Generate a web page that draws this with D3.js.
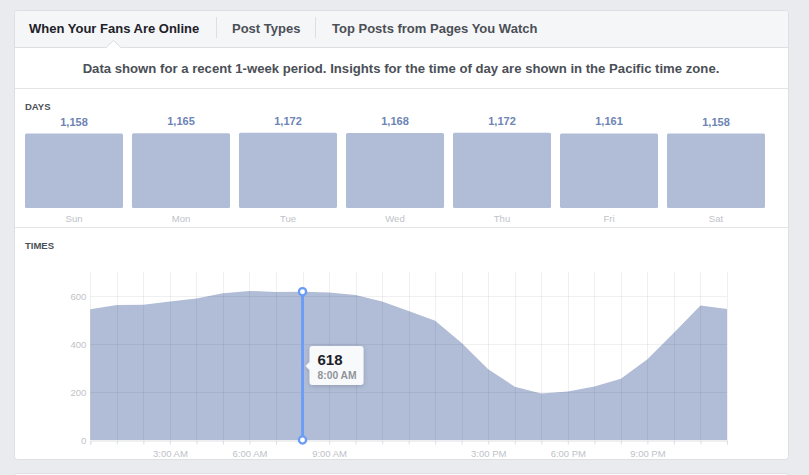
<!DOCTYPE html>
<html>
<head>
<meta charset="utf-8">
<script src="https://cdn.jsdelivr.net/npm/d3@7"></script>
<style>
  html, body { margin: 0; padding: 0; background: #e9ebee; }
  svg { display: block; font-family: "Liberation Sans", Arial, Helvetica, sans-serif; }
</style>
</head>
<body>
<svg id="chart" width="809" height="475"></svg>
<script>
// ---- data ----
const tabs = ["When Your Fans Are Online", "Post Types", "Top Posts from Pages You Watch"];
const subtitle = "Data shown for a recent 1-week period. Insights for the time of day are shown in the Pacific time zone.";
const days = ["Sun", "Mon", "Tue", "Wed", "Thu", "Fri", "Sat"];
const dayValues = [1158, 1165, 1172, 1168, 1172, 1161, 1158];
const hours = d3.range(0, 25); // 0..24 (24 = midnight again)
const hourValues = [545, 562, 564, 577, 590, 611, 621, 617, 618, 615, 604, 577, 538, 497, 404, 295, 222, 194, 202, 223, 255, 336, 447, 560, 546];
const yTicks = [0, 200, 400, 600];
const xLabelHours = [3, 6, 9, 15, 18, 21];
const highlightHour = 8;

const svg = d3.select("#chart");
const fmt = d3.format(",");
function hourLabel(h) {
  const hh = h % 12 === 0 ? 12 : h % 12;
  return hh + ":00 " + (h < 12 || h === 24 ? "AM" : "PM");
}

// page background
svg.append("rect").attr("width", 809).attr("height", 475).attr("fill", "#e9ebee");

// next card peeking at bottom
svg.append("rect").attr("x", 14.5).attr("y", 473.5).attr("width", 774).attr("height", 40)
  .attr("rx", 3).attr("fill", "#fff").attr("stroke", "#dddfe2");

// main card
svg.append("rect").attr("x", 14.5).attr("y", 10.5).attr("width", 774).attr("height", 449)
  .attr("rx", 3).attr("fill", "#fff").attr("stroke", "#dddfe2");

// tab bar
svg.append("path").attr("d", "M15,47 V13.5 Q15,11 17.5,11 H785.5 Q788,11 788,13.5 V47 Z").attr("fill", "#f5f6f7");
svg.append("line").attr("x1", 15).attr("x2", 788).attr("y1", 47.5).attr("y2", 47.5).attr("stroke", "#dddfe2");
// notch under active tab
svg.append("path").attr("d", "M106,48 L113.5,41 L121,48 Z").attr("fill", "#fff");
svg.append("path").attr("d", "M106,47.5 L113.5,40.5 L121,47.5").attr("fill", "none").attr("stroke", "#dddfe2");

const tabX = [29, 232, 332];
tabs.forEach((t, i) => {
  svg.append("text").attr("x", tabX[i]).attr("y", 33)
    .attr("font-size", 13).attr("font-weight", "bold")
    .attr("fill", i === 0 ? "#1d2129" : "#4b4f56").text(t);
});
[216.5, 315.5].forEach(x => {
  svg.append("line").attr("x1", x).attr("x2", x).attr("y1", 17).attr("y2", 38).attr("stroke", "#dddfe2");
});

// subtitle
svg.append("text").attr("x", 401).attr("y", 73).attr("text-anchor", "middle")
  .attr("font-size", 13.15).attr("font-weight", "bold").attr("fill", "#4b4f56").text(subtitle);

// separators
[88.5, 227.5].forEach(y => {
  svg.append("line").attr("x1", 15).attr("x2", 788).attr("y1", y).attr("y2", y).attr("stroke", "#e5e5e5");
});

// ---- DAYS ----
svg.append("text").attr("x", 25).attr("y", 110).attr("font-size", 9.5).attr("font-weight", "bold")
  .attr("fill", "#4b4f56").text("DAYS");

const xBand = d3.scaleBand().domain(days).range([25, 765]).paddingInner(9 / 107).paddingOuter(0);
const yBar = d3.scaleLinear().domain([0, d3.max(dayValues)]).range([208, 132.7]);
const barData = days.map((d, i) => ({ day: d, value: dayValues[i] }));
const barColor = "#b1bdd7";

svg.append("g").selectAll("rect").data(barData).join("rect")
  .attr("x", d => xBand(d.day)).attr("width", xBand.bandwidth())
  .attr("y", d => yBar(d.value)).attr("height", d => yBar(0) - yBar(d.value))
  .attr("rx", 1.5).attr("fill", barColor);

svg.append("g").selectAll("text").data(barData).join("text")
  .attr("x", d => xBand(d.day) + xBand.bandwidth() / 2)
  .attr("y", d => yBar(d.value) - 8)
  .attr("text-anchor", "middle").attr("font-size", 11).attr("font-weight", "bold")
  .attr("fill", "#6d84b4").text(d => fmt(d.value));

svg.append("g").selectAll("text").data(barData).join("text")
  .attr("x", d => xBand(d.day) + xBand.bandwidth() / 2)
  .attr("y", 222)
  .attr("text-anchor", "middle").attr("font-size", 9.5)
  .attr("fill", "#bec2c9").text(d => d.day);

// ---- TIMES ----
svg.append("text").attr("x", 25).attr("y", 249).attr("font-size", 9.5).attr("font-weight", "bold")
  .attr("fill", "#4b4f56").text("TIMES");

const x = d3.scaleLinear().domain([0, 24]).range([90.3, 727]);
const y = d3.scaleLinear().domain([0, 700]).range([440, 272]);
const series = hours.map((h, i) => ({ h, v: hourValues[i] }));

// area
const area = d3.area().x(d => x(d.h)).y0(y(0)).y1(d => y(d.v));
svg.append("path").datum(series).attr("d", area).attr("fill", barColor);

// grid (on top, translucent)
const grid = svg.append("g");
grid.selectAll("line.v").data(hours).join("line").attr("class", "v")
  .attr("x1", d => Math.round(x(d)) + 0.5).attr("x2", d => Math.round(x(d)) + 0.5)
  .attr("y1", y(700)).attr("y2", y(0))
  .attr("stroke", "rgba(0,0,0,0.06)");
grid.selectAll("line.h").data(yTicks.filter(t => t > 0)).join("line").attr("class", "h")
  .attr("x1", x(0)).attr("x2", x(24))
  .attr("y1", d => Math.round(y(d)) + 0.5).attr("y2", d => Math.round(y(d)) + 0.5)
  .attr("stroke", "rgba(0,0,0,0.06)");

// x axis
const xAxis = d3.axisBottom(x).tickValues(hours).tickSize(4)
  .tickFormat(h => xLabelHours.includes(h) ? hourLabel(h) : "");
const gx = svg.append("g").attr("transform", `translate(0,${Math.round(y(0)) + 0.5})`).call(xAxis);
gx.select(".domain").attr("stroke", "#dddfe2");
gx.selectAll(".tick line").attr("stroke", "#dddfe2");
gx.selectAll(".tick text").attr("fill", "#bec2c9").attr("font-size", 9.5)
  .attr("font-family", "Liberation Sans, Arial, sans-serif").attr("dy", "0.95em");

// y axis labels
const yAxis = d3.axisLeft(y).tickValues(yTicks).tickSize(0).tickPadding(4);
const gy = svg.append("g").attr("transform", `translate(${x(0)},0)`).call(yAxis);
gy.select(".domain").remove();
gy.selectAll(".tick text").attr("fill", "#bec2c9").attr("font-size", 9.5)
  .attr("font-family", "Liberation Sans, Arial, sans-serif");

// highlight
const hv = hourValues[hours.indexOf(highlightHour)];
const hx = x(highlightHour);
const blue = "#6a9bf6";
svg.append("line").attr("x1", hx).attr("x2", hx).attr("y1", y(hv)).attr("y2", y(0))
  .attr("stroke", blue).attr("stroke-width", 2.8);
[hv, 0].forEach(v => {
  svg.append("circle").attr("cx", hx).attr("cy", y(v)).attr("r", 3.6)
    .attr("fill", "#fff").attr("stroke", blue).attr("stroke-width", 2.3);
});

// tooltip
const defs = svg.append("defs");
const f = defs.append("filter").attr("id", "sh").attr("x", "-30%").attr("y", "-30%").attr("width", "160%").attr("height", "160%");
f.append("feDropShadow").attr("dx", 0).attr("dy", 1).attr("stdDeviation", 2.5)
  .attr("flood-color", "#000").attr("flood-opacity", 0.18);
const tx = hx + 7, ty = 346, tw = 54, th = 39;
svg.append("path")
  .attr("d", `M${tx + 3},${ty} H${tx + tw - 3} Q${tx + tw},${ty} ${tx + tw},${ty + 3} V${ty + th - 3} Q${tx + tw},${ty + th} ${tx + tw - 3},${ty + th} H${tx + 3} Q${tx},${ty + th} ${tx},${ty + th - 3} V${ty + 24} L${tx - 4},${ty + 20} L${tx},${ty + 16} V${ty + 3} Q${tx},${ty} ${tx + 3},${ty} Z`)
  .attr("fill", "#f8f9fa").attr("filter", "url(#sh)");
svg.append("text").attr("x", tx + 8).attr("y", ty + 18.5).attr("font-size", 15).attr("font-weight", "bold")
  .attr("fill", "#1d2129").text(hv);
svg.append("text").attr("x", tx + 8).attr("y", ty + 33).attr("font-size", 10.3).attr("font-weight", "bold")
  .attr("fill", "#90949c").text(hourLabel(highlightHour));
</script>
</body>
</html>
